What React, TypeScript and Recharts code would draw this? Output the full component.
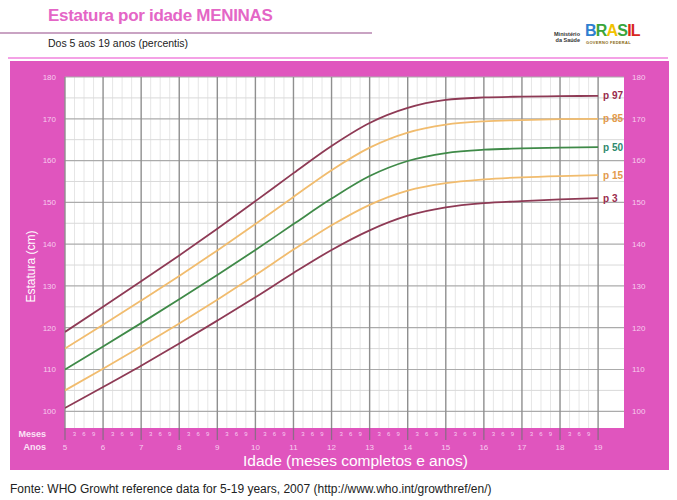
import React from "react";
import {
  LineChart,
  Line,
  XAxis,
  YAxis,
  CartesianGrid,
  ReferenceLine,
} from "recharts";

// idade em anos completos
const ages = [5, 6, 7, 8, 9, 10, 11, 12, 13, 14, 15, 16, 17, 18, 19];

// estatura (cm) por percentil
const p97 = [119.0, 125.0, 131.1, 137.3, 143.7, 150.3, 157.0, 163.5, 169.0, 172.6, 174.5, 175.1, 175.3, 175.4, 175.5];
const p85 = [115.0, 120.7, 126.5, 132.4, 138.5, 144.8, 151.3, 157.7, 163.1, 166.7, 168.6, 169.4, 169.7, 169.9, 170.0];
const p50 = [110.0, 115.5, 121.1, 126.8, 132.6, 138.6, 144.8, 150.9, 156.3, 159.9, 161.8, 162.6, 162.9, 163.1, 163.2];
const p15 = [105.0, 110.2, 115.5, 121.0, 126.7, 132.6, 138.7, 144.5, 149.4, 152.8, 154.6, 155.5, 156.0, 156.3, 156.5];
const p3 = [100.8, 105.8, 110.9, 116.2, 121.7, 127.3, 133.1, 138.6, 143.3, 146.8, 148.8, 149.8, 150.3, 150.7, 151.0];

const heightTicks = [100, 110, 120, 130, 140, 150, 160, 170, 180];
const halfTicks = [105, 115, 125, 135, 145, 155, 165, 175];
const monthTicks = [3, 6, 9];

const series = [
  { key: "p97", label: "p 97", line: "#8e3a55", text: "#9a2c4c" },
  { key: "p85", label: "p 85", line: "#f1bc6e", text: "#e39a4c" },
  { key: "p50", label: "p 50", line: "#3f8a48", text: "#2f8a6e" },
  { key: "p15", label: "p 15", line: "#f1bc6e", text: "#e39a4c" },
  { key: "p3", label: "p 3", line: "#8e3a55", text: "#9a2c4c" },
];

const rows = ages.map((age, i) => ({
  age,
  p97: p97[i],
  p85: p85[i],
  p50: p50[i],
  p15: p15[i],
  p3: p3[i],
}));

const quarterTicks: number[] = [];
ages.forEach((a, i) => {
  quarterTicks.push(a);
  if (i < ages.length - 1) monthTicks.forEach((m) => quarterTicks.push(a + m / 12));
});
const minorX = quarterTicks.filter((v) => !ages.includes(v));

const PINK = "#e055be";
const FONT = '"Liberation Sans", Arial, sans-serif';

const AgeTick = (props: any) => {
  const { x, y, payload } = props;
  const v = payload.value;
  const whole = Math.abs(v - Math.round(v)) < 1e-6;
  if (whole) {
    return (
      <g>
        <line x1={x} x2={x} y1={y} y2={y + 12} stroke="#8d6a87" strokeWidth={1.3} />
        <text x={x} y={y + 22} textAnchor="middle" fill="#f7cdee" fontSize={8}>
          {Math.round(v)}
        </text>
      </g>
    );
  }
  const m = Math.round((v - Math.floor(v)) * 12);
  return (
    <text x={x} y={y + 8} textAnchor="middle" fill="#f7cdee" fontSize={6}>
      {m}
    </text>
  );
};

const endLabel = (text: string, color: string) => (props: any) => {
  const { x, y, index } = props;
  if (index !== ages.length - 1) return null;
  return (
    <text x={x + 5} y={y + 3.5} fill={color} fontSize={10} fontWeight="bold" fontFamily={FONT}>
      {text}
    </text>
  );
};

export default function App() {
  return (
    <div
      style={{
        position: "absolute",
        left: 0,
        top: 0,
        width: 677,
        height: 500,
        background: "#fff",
        fontFamily: FONT,
        overflow: "hidden",
      }}
    >
      {/* cabeçalho */}
      <div style={{ position: "absolute", left: 48, top: 6, fontSize: 17, fontWeight: "bold", color: "#e466c6", letterSpacing: -0.3 }}>
        Estatura por idade MENINAS
      </div>
      <div style={{ position: "absolute", left: 0, top: 32, width: 372, height: 2, background: "#c9a3c3" }} />
      <div style={{ position: "absolute", left: 48, top: 37, fontSize: 10.5, color: "#222" }}>
        Dos 5 aos 19 anos (percentis)
      </div>
      <div style={{ position: "absolute", left: 8, top: 57, width: 660, height: 2, background: "#f4a2e6" }} />

      {/* logo */}
      <div style={{ position: "absolute", left: 548, top: 31, fontSize: 5.5, fontWeight: "bold", color: "#333", lineHeight: "6px", textAlign: "right", width: 32 }}>
        Ministério
        <br />
        da Saúde
      </div>
      <div style={{ position: "absolute", left: 585, top: 23, fontSize: 16, fontWeight: "bold", letterSpacing: -0.8, lineHeight: "16px" }}>
        <span style={{ color: "#2f7fd0" }}>B</span>
        <span style={{ color: "#3aa53a" }}>R</span>
        <span style={{ color: "#f2c200" }}>A</span>
        <span style={{ color: "#3aa53a" }}>S</span>
        <span style={{ color: "#d8281e" }}>IL</span>
      </div>
      <div style={{ position: "absolute", left: 586, top: 40, fontSize: 4, fontWeight: "bold", color: "#8a6a10", letterSpacing: 0.3 }}>
        GOVERNO FEDERAL
      </div>

      {/* painel rosa */}
      <div style={{ position: "absolute", left: 10, top: 61, width: 659, height: 409, background: PINK }} />

      <div style={{ position: "absolute", left: 0, top: 0 }}>
        <LineChart width={677} height={500} data={rows} margin={{ top: 77, right: 23, bottom: 32, left: 35 }}>
          <CartesianGrid horizontal={false} vertical={false} fill="#ffffff" yAxisId="left" />
          <XAxis
            dataKey="age"
            type="number"
            domain={[5, 19.68]}
            ticks={quarterTicks}
            interval={0}
            tick={<AgeTick />}
            tickLine={false}
            axisLine={false}
            tickSize={0}
            tickMargin={0}
            height={40}
            allowDataOverflow
          />
          <YAxis
            yAxisId="left"
            type="number"
            domain={[96, 180]}
            ticks={heightTicks}
            interval={0}
            tickLine={false}
            axisLine={false}
            tickSize={0}
            tickMargin={9}
            width={30}
            tick={{ fill: "#f7cdee", fontSize: 8 }}
            label={{
              value: "Estatura (cm)",
              angle: -90,
              position: "insideLeft",
              offset: -4,
              fill: "#ffffff",
              fontSize: 12,
              dy: 50,
            }}
            allowDataOverflow
          />
          <YAxis
            yAxisId="right"
            orientation="right"
            type="number"
            domain={[96, 180]}
            ticks={heightTicks}
            interval={0}
            tickLine={false}
            axisLine={false}
            tickSize={0}
            tickMargin={8}
            width={30}
            tick={{ fill: "#f7cdee", fontSize: 8, textAnchor: "start" }}
            allowDataOverflow
          />

          {minorX.map((v) => (
            <ReferenceLine key={`mx${v}`} yAxisId="left" x={v} stroke="#e6e6e6" strokeWidth={1} />
          ))}
          {halfTicks.map((v) => (
            <ReferenceLine key={`my${v}`} yAxisId="left" y={v} stroke="#d9d9d9" strokeWidth={1} />
          ))}
          {heightTicks.map((v) => (
            <ReferenceLine key={`hy${v}`} yAxisId="left" y={v} stroke="#ababab" strokeWidth={1.2} />
          ))}
          {ages.map((v) => (
            <ReferenceLine key={`hx${v}`} yAxisId="left" x={v} stroke="#8f8f8f" strokeWidth={1.4} />
          ))}

          {series.map((s) => (
            <Line
              key={s.key}
              yAxisId="left"
              dataKey={s.key}
              type="monotone"
              stroke={s.line}
              strokeWidth={1.8}
              dot={false}
              isAnimationActive={false}
              label={endLabel(s.label, s.text)}
            />
          ))}
        </LineChart>
      </div>

      {/* rótulos do eixo de idade */}
      <div style={{ position: "absolute", left: 12, top: 428, width: 34, textAlign: "right", fontSize: 9, fontWeight: "bold", color: "#fbe3f6", lineHeight: "13px" }}>
        Meses
        <br />
        Anos
      </div>
      <div style={{ position: "absolute", left: 243, top: 452, fontSize: 15.5, color: "#ffffff" }}>
        Idade (meses completos e anos)
      </div>

      {/* fonte */}
      <div style={{ position: "absolute", left: 10, top: 482, fontSize: 12, color: "#222" }}>
        Fonte: WHO Growht reference data for 5-19 years, 2007 (http://www.who.int/growthref/en/)
      </div>
    </div>
  );
}
